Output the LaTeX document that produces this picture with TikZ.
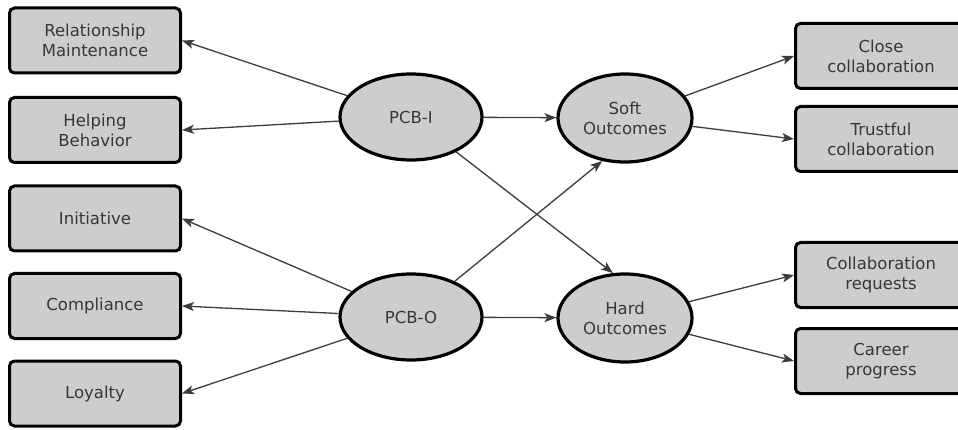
\documentclass[tikz,border=0pt]{standalone}
\usepackage{fontspec}
\setmainfont{DejaVu Sans}
\usetikzlibrary{shapes.geometric, arrows.meta}

\definecolor{boxgray}{RGB}{205,205,205}
\definecolor{textgray}{RGB}{55,55,55}
\definecolor{linegray}{RGB}{60,60,60}

\tikzset{
  box/.style={draw=black, line width=3pt, rounded corners=5pt, fill=boxgray,
    minimum width=171pt, minimum height=65pt, align=center, text=textgray,
    font=\fontsize{16.5}{20}\selectfont},
  construct/.style={ellipse, draw=black, line width=3.2pt, fill=boxgray,
    inner sep=0pt, align=center, text=textgray,
    font=\fontsize{16.5}{20}\selectfont},
  link/.style={draw=linegray, line width=1.3pt,
    -{Stealth[length=12pt, width=9pt, inset=3pt]}}
}

\begin{document}
\begin{tikzpicture}[x=1pt, y=-1pt]
\clip (0,0) rectangle (958,430);
% latent constructs
\node[construct, minimum width=142pt, minimum height=86pt] (pcbi) at (411,117) {PCB-I};
\node[construct, minimum width=142pt, minimum height=86pt] (pcbo) at (411,317) {PCB-O};
\node[construct, minimum width=134pt, minimum height=88pt] (soft) at (625,118) {Soft\\Outcomes};
\node[construct, minimum width=134pt, minimum height=88pt] (hard) at (625,318) {Hard\\Outcomes};
% behaviours
\node[box] (rel) at (95,40.5) {Relationship\\Maintenance};
\node[box] (help) at (95,130) {Helping\\Behavior};
\node[box] (init) at (95,218.5) {Initiative};
\node[box] (comp) at (95,306) {Compliance};
\node[box] (loy) at (95,393.5) {Loyalty};
% outcomes
\node[box] (close) at (881,56) {Close\\collaboration};
\node[box] (trust) at (881,139) {Trustful\\collaboration};
\node[box] (req) at (881,275) {Collaboration\\requests};
\node[box] (career) at (881,361) {Career\\progress};

\draw[link] (pcbi) -- (rel.east);
\draw[link] (pcbi) -- (help.east);
\draw[link] (pcbo) -- (init.east);
\draw[link] (pcbo) -- (comp.east);
\draw[link] (pcbo) -- (loy.east);
\draw[link] (pcbi) -- (soft);
\draw[link] (pcbo) -- (hard);
\draw[link] (pcbi) -- (hard.105);
\draw[link] (pcbo) -- (soft.-118);
\draw[link] (soft) -- (close.west);
\draw[link] (soft) -- (trust.west);
\draw[link] (hard) -- (req.west);
\draw[link] (hard) -- (career.west);
\end{tikzpicture}
\end{document}
